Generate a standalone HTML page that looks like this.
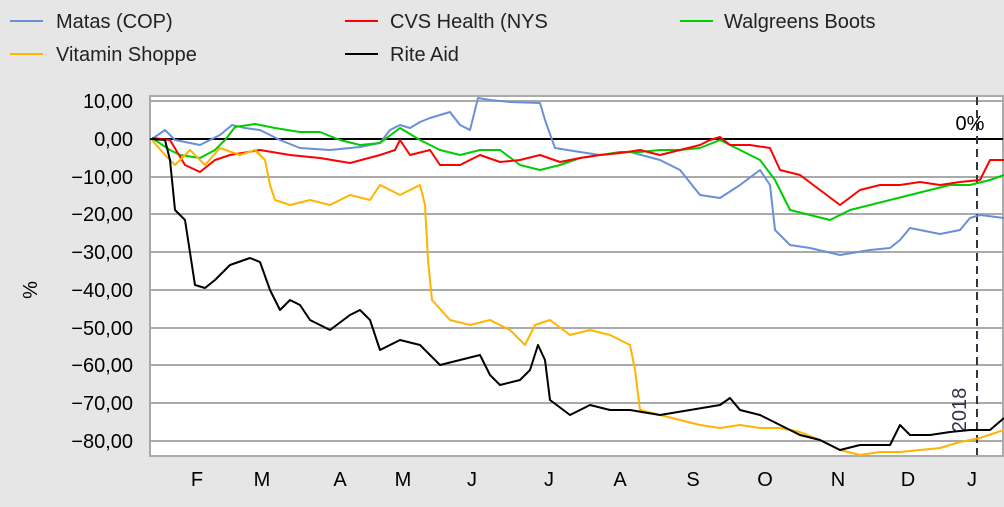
<!DOCTYPE html>
<html><head><meta charset="utf-8"><style>
body{margin:0;width:1004px;height:502px;background:#e6e6e6;overflow:hidden;font-family:"Liberation Sans",sans-serif}
</style></head><body>
<svg width="1004" height="502" xmlns="http://www.w3.org/2000/svg" font-family="Liberation Sans, sans-serif">
<rect width="1004" height="502" fill="#e6e6e6"/>
<g font-size="20" fill="#222">
<line x1="10" y1="21" x2="43" y2="21" stroke="#6a8fd8" stroke-width="2"/><text x="56" y="28">Matas (COP)</text>
<line x1="345" y1="21" x2="378" y2="21" stroke="#ff0000" stroke-width="2"/><text x="390" y="28">CVS Health (NYS</text>
<line x1="680" y1="21" x2="713" y2="21" stroke="#00cc00" stroke-width="2"/><text x="724" y="28">Walgreens Boots</text>
<line x1="10" y1="54" x2="43" y2="54" stroke="#ffb400" stroke-width="2"/><text x="56" y="61">Vitamin Shoppe</text>
<line x1="345" y1="54" x2="378" y2="54" stroke="#000" stroke-width="2"/><text x="390" y="61">Rite Aid</text>
</g>
<rect x="150" y="96" width="853" height="360" fill="#fff" stroke="#aaa" stroke-width="2"/>
<g stroke="#aaa" stroke-width="2">
<line x1="150" y1="101" x2="1003" y2="101"/><line x1="150" y1="177" x2="1003" y2="177"/><line x1="150" y1="214" x2="1003" y2="214"/><line x1="150" y1="252" x2="1003" y2="252"/><line x1="150" y1="290" x2="1003" y2="290"/><line x1="150" y1="328" x2="1003" y2="328"/><line x1="150" y1="365" x2="1003" y2="365"/><line x1="150" y1="403" x2="1003" y2="403"/><line x1="150" y1="441" x2="1003" y2="441"/>
</g>
<line x1="150" y1="139" x2="1003" y2="139" stroke="#000" stroke-width="2"/>
<g font-size="20" fill="#000" text-anchor="end">
<text x="133" y="108">10,00</text><text x="133" y="146">0,00</text><text x="133" y="184">−10,00</text><text x="133" y="221">−20,00</text><text x="133" y="259">−30,00</text><text x="133" y="297">−40,00</text><text x="133" y="335">−50,00</text><text x="133" y="372">−60,00</text><text x="133" y="410">−70,00</text><text x="133" y="448">−80,00</text>
</g>
<text x="37" y="290" font-size="20" transform="rotate(-90 37 290)" text-anchor="middle">%</text>
<g font-size="20" fill="#000" text-anchor="middle">
<text x="197" y="486">F</text><text x="262" y="486">M</text><text x="340" y="486">A</text><text x="403" y="486">M</text><text x="472" y="486">J</text><text x="549" y="486">J</text><text x="620" y="486">A</text><text x="693" y="486">S</text><text x="765" y="486">O</text><text x="838" y="486">N</text><text x="908" y="486">D</text><text x="972" y="486">J</text>
</g>
<line x1="977" y1="97" x2="977" y2="455" stroke="#334" stroke-width="2" stroke-dasharray="8,5"/>
<text x="970" y="130" font-size="20" text-anchor="middle">0%</text>
<text x="966" y="410" font-size="20" fill="#334" transform="rotate(-90 966 410)" text-anchor="middle">2018</text>
<g fill="none" stroke-width="2" stroke-linejoin="round">
<polyline stroke="#6a8fd8" points="152,139 165,130 175,140 200,145 220,135 232,125 245,128 260,130 280,140 300,148 330,150 360,147 380,143 390,130 400,125 410,128 420,122 430,118 440,115 450,112 460,125 470,130 478,98 490,100 510,102 540,103 545,120 555,148 580,152 600,155 630,152 660,160 680,170 700,195 720,198 740,185 760,170 770,185 775,230 790,245 810,248 840,255 870,250 890,248 900,240 910,228 920,230 940,234 960,230 970,218 980,215 1004,218"/>
<polyline stroke="#00cc00" points="152,138 170,150 180,155 200,158 215,150 225,140 235,127 255,124 275,128 300,132 320,132 340,140 360,145 380,143 400,128 420,140 440,150 460,155 480,150 500,150 520,165 540,170 560,165 580,158 600,155 620,152 640,152 660,150 680,150 700,148 720,140 740,150 760,160 775,180 790,210 810,215 830,220 850,210 870,205 890,200 910,195 930,190 950,185 970,185 990,180 1004,175"/>
<polyline stroke="#ff0000" points="152,138 170,140 185,165 200,172 215,160 230,155 260,150 290,155 320,158 350,163 380,155 395,150 400,140 410,155 430,150 440,165 460,165 480,155 500,162 520,160 540,155 560,162 580,158 600,155 620,153 640,150 660,155 680,150 700,145 710,140 720,137 730,145 750,145 770,148 780,170 800,175 820,190 840,205 860,190 880,185 900,185 920,182 940,185 960,182 980,180 990,160 1004,160"/>
<polyline stroke="#ffb400" points="152,140 165,155 175,165 190,150 205,165 220,148 240,155 255,150 265,160 270,185 275,200 290,205 310,200 330,205 350,195 370,200 380,185 400,195 420,185 425,205 428,260 432,300 450,320 470,325 490,320 510,330 525,345 535,325 550,320 570,335 590,330 610,335 630,345 635,370 640,410 660,415 680,420 700,425 720,428 740,425 760,428 780,428 800,432 820,440 840,450 860,455 880,452 900,452 920,450 940,448 960,442 980,438 1004,430"/>
<polyline stroke="#000" points="152,139 165,140 170,160 175,210 185,220 195,285 205,288 215,280 230,265 250,258 260,262 270,290 280,310 290,300 300,305 310,320 330,330 350,315 360,310 370,320 380,350 400,340 420,345 440,365 460,360 480,355 490,375 500,385 520,380 530,370 538,345 545,360 550,400 570,415 590,405 610,410 630,410 660,415 690,410 720,405 730,398 740,410 760,415 780,425 800,435 820,440 840,450 860,445 890,445 900,425 910,435 930,435 950,432 970,430 990,430 1004,418"/>
</g>
</svg>
</body></html>
